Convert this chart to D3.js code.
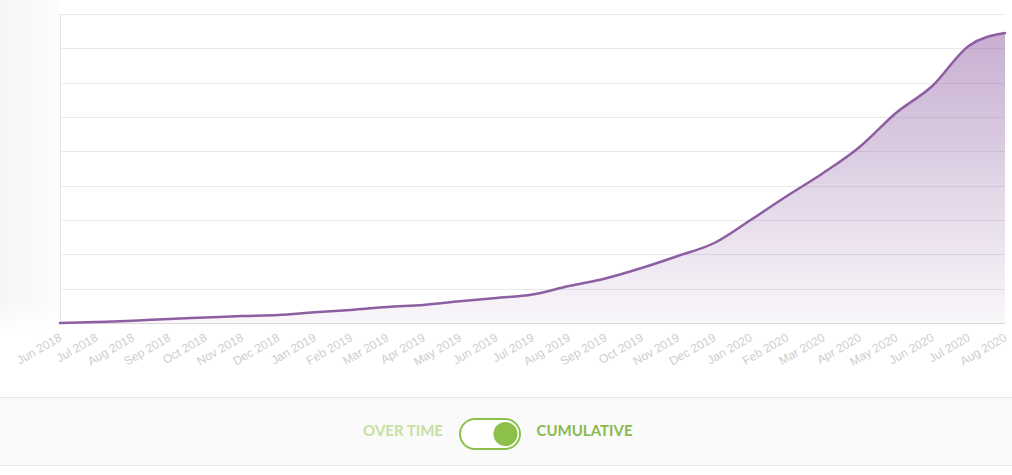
<!DOCTYPE html>
<html>
<head>
<meta charset="utf-8">
<script src="https://cdn.jsdelivr.net/npm/d3@7"></script>
<style>
  html, body { margin: 0; padding: 0; background: #ffffff; }
  svg { display: block; }
</style>
</head>
<body>
<svg id="chart" width="1012" height="475"></svg>
<script>
// ---- data ----
const months = ["Jun 2018","Jul 2018","Aug 2018","Sep 2018","Oct 2018","Nov 2018","Dec 2018",
  "Jan 2019","Feb 2019","Mar 2019","Apr 2019","May 2019","Jun 2019","Jul 2019","Aug 2019",
  "Sep 2019","Oct 2019","Nov 2019","Dec 2019","Jan 2020","Feb 2020","Mar 2020","Apr 2020",
  "May 2020","Jun 2020","Jul 2020","Aug 2020"];
const cumulative = [0, 29, 64, 117, 160, 204, 233, 312, 379, 466, 524, 632, 728, 830, 1078,
  1296, 1602, 1952, 2330, 3000, 3699, 4369, 5127, 6117, 6903, 8069, 8447];
const yTicks = [0, 1000, 2000, 3000, 4000, 5000, 6000, 7000, 8000, 9000];
const toggleLabels = ["OVER TIME", "CUMULATIVE"];

// ---- layout ----
const W = 1012, H = 475;
const m = { left: 60, right: 1005, top: 14, bottom: 323 };
const svg = d3.select("#chart");
const defs = svg.append("defs");

const x = d3.scalePoint().domain(months).range([m.left, m.right]);
const y = d3.scaleLinear().domain([0, 9000]).range([m.bottom, m.top]);

// left faded band
const bandGrad = defs.append("linearGradient").attr("id", "band").attr("x1", 0).attr("x2", 1).attr("y1", 0).attr("y2", 0);
bandGrad.append("stop").attr("offset", "0%").attr("stop-color", "#f6f6f6");
bandGrad.append("stop").attr("offset", "100%").attr("stop-color", "#fcfcfc");
const bandFade = defs.append("linearGradient").attr("id", "bandFade").attr("x1", 0).attr("x2", 0).attr("y1", 0).attr("y2", 1);
bandFade.append("stop").attr("offset", "0%").attr("stop-color", "#fff").attr("stop-opacity", 0);
bandFade.append("stop").attr("offset", "100%").attr("stop-color", "#fff").attr("stop-opacity", 1);
svg.append("rect").attr("x", 0).attr("y", 0).attr("width", m.left).attr("height", 330).attr("fill", "url(#band)");
svg.append("rect").attr("x", 0).attr("y", 300).attr("width", m.left).attr("height", 32).attr("fill", "url(#bandFade)");

// gridlines
svg.append("g").selectAll("line").data(yTicks).join("line")
  .attr("x1", m.left).attr("x2", m.right)
  .attr("y1", d => Math.round(y(d)) + 0.5).attr("y2", d => Math.round(y(d)) + 0.5)
  .attr("stroke", d => d === 0 ? "#d8d8d8" : "#e9e9e9").attr("stroke-width", 1);

// left axis line
svg.append("line").attr("x1", m.left + 0.5).attr("x2", m.left + 0.5)
  .attr("y1", m.top).attr("y2", m.bottom).attr("stroke", "#e4e4e4");

// area gradient
const areaGrad = defs.append("linearGradient").attr("id", "areaGrad")
  .attr("gradientUnits", "userSpaceOnUse")
  .attr("x1", 0).attr("x2", 0).attr("y1", y(8447)).attr("y2", m.bottom);
areaGrad.append("stop").attr("offset", "0%").attr("stop-color", "#8e5ea2").attr("stop-opacity", 0.5);
areaGrad.append("stop").attr("offset", "100%").attr("stop-color", "#8e5ea2").attr("stop-opacity", 0.05);

const area = d3.area().x((d, i) => x(months[i])).y0(m.bottom).y1(d => y(d)).curve(d3.curveMonotoneX);
const line = d3.line().x((d, i) => x(months[i])).y(d => y(d)).curve(d3.curveMonotoneX);

svg.append("path").datum(cumulative).attr("d", area).attr("fill", "url(#areaGrad)");
svg.append("path").datum(cumulative).attr("d", line)
  .attr("fill", "none").attr("stroke", "#8e5ea2").attr("stroke-width", 2.5)
  .attr("stroke-linejoin", "round").attr("stroke-linecap", "round");

// x axis labels
const xAxis = d3.axisBottom(x).tickSize(0).tickPadding(0);
const gx = svg.append("g").attr("transform", `translate(0,${m.bottom})`).call(xAxis);
gx.select(".domain").remove();
gx.selectAll(".tick text")
  .attr("font-family", "'Liberation Sans', Arial, sans-serif")
  .attr("font-size", 12)
  .attr("fill", "#cdcdcd")
  .attr("text-anchor", "end")
  .attr("dy", 0)
  .attr("transform", "translate(2,17) rotate(-30)");

// bottom toggle panel
svg.append("rect").attr("x", 0).attr("y", 397).attr("width", W).attr("height", 68).attr("fill", "#fafafa");
svg.append("line").attr("x1", 0).attr("x2", W).attr("y1", 397.5).attr("y2", 397.5).attr("stroke", "#e8e8e8");
svg.append("line").attr("x1", 0).attr("x2", W).attr("y1", 465.5).attr("y2", 465.5).attr("stroke", "#e8e8e8");

const tg = svg.append("g");
tg.append("text").attr("x", 443).attr("y", 436).attr("text-anchor", "end")
  .attr("font-family", "Lato, sans-serif").attr("font-weight", 700).attr("font-size", 15)
  .attr("fill", "#c6dfa2").text(toggleLabels[0]);
tg.append("rect").attr("x", 460).attr("y", 419).attr("width", 60).attr("height", 30).attr("rx", 15)
  .attr("fill", "#ffffff").attr("stroke", "#8cc04b").attr("stroke-width", 2);
tg.append("circle").attr("cx", 505.5).attr("cy", 434).attr("r", 12).attr("fill", "#8cc04b");
tg.append("text").attr("x", 536.5).attr("y", 436).attr("text-anchor", "start")
  .attr("font-family", "Lato, sans-serif").attr("font-weight", 700).attr("font-size", 15)
  .attr("fill", "#8ab94d").text(toggleLabels[1]);
</script>
</body>
</html>
